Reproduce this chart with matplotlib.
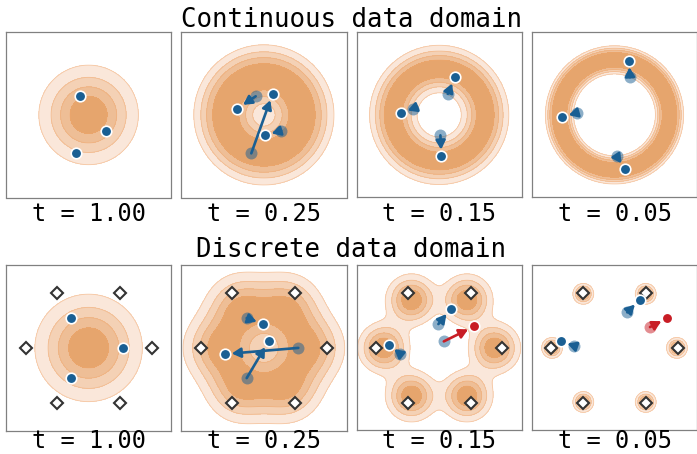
import numpy as np
import matplotlib
matplotlib.use("Agg")
import matplotlib.pyplot as plt

W, H = 697, 454
LIM = 1.31

BLUE = "#1a5f93"
RED = "#c81d25"
BAND_COLORS = ["#fae7da", "#f4d1b5", "#eebe96", "#e6a56d"]
LINE_COLOR = "#f2a66a"
DIAMOND_EDGE = "#333333"
SPINE = "#808080"

row_titles = ["Continuous data domain", "Discrete data domain"]
t_labels = ["t = 1.00", "t = 0.25", "t = 0.15", "t = 0.05"]

# filled bands start at these fractions of the peak density
level_fracs = [0.2, 0.4, 0.6, 0.8]

# continuous density: annulus (radius, half width) blurred by a gaussian
cont_ring_radius = [0.0, 0.645, 0.76, 0.875]
cont_ring_halfwidth = [0.0, 0.295, 0.0, 0.165]
cont_blur = [0.44, 0.20, 0.205, 0.065]

# discrete density: hexagon atoms pulled toward the centre, blurred
hex_angles_deg = [0, 60, 120, 180, 240, 300]
disc_shrink = [0.0, 0.72, 0.88, 0.99]
disc_blur = [0.475, 0.33, 0.23, 0.092]

# continuous trajectories, one row per particle, one column per time step
cont_traj_x = [[-0.130, -0.419, -0.600, -0.829],
               [0.276, 0.019, 0.035, 0.171],
               [-0.200, 0.137, 0.246, 0.230]]
cont_traj_y = [[0.295, 0.100, 0.032, -0.032],
               [-0.249, -0.324, -0.657, -0.857],
               [-0.610, 0.333, 0.597, 0.862]]

# discrete particles: previous (faded) and current positions per panel
disc_prev_x = [[], [-0.273, 0.546, -0.273], [-0.013, -0.616, 0.073], [0.203, -0.643, 0.563]]
disc_prev_y = [[], [0.473, 0.000, -0.479], [0.378, -0.098, 0.103], [0.563, 0.033, 0.330]]
disc_curr_x = [[-0.273, 0.546, -0.273], [-0.013, -0.616, 0.073], [0.183, -0.795, 0.554], [0.398, -0.849, 0.838]]
disc_curr_y = [[0.473, 0.000, -0.479], [0.378, -0.098, 0.103], [0.620, 0.049, 0.341], [0.764, 0.103, 0.473]]
disc_prev_color = [[], ["b", "b", "b"], ["b", "b", "b"], ["b", "b", "r"]]
disc_curr_color = [["b", "b", "b"], ["b", "b", "b"], ["b", "b", "r"], ["b", "b", "r"]]

COLORS = {"b": BLUE, "r": RED}

grid = np.linspace(-1.6, 1.6, 401)
GX, GY = np.meshgrid(grid, grid)
GR = np.hypot(GX, GY)


def i0e(x):
    out = np.empty_like(x)
    small = x < 20
    out[small] = np.i0(x[small]) * np.exp(-x[small])
    xl = x[~small]
    out[~small] = (1 + 1 / (8 * xl) + 9 / (128 * xl ** 2)) / np.sqrt(2 * np.pi * xl)
    return out


def annulus_density(radius, halfwidth, sigma):
    if halfwidth > 0:
        radii = np.linspace(max(radius - halfwidth, 0.0), radius + halfwidth, 61)
    else:
        radii = np.array([radius])
    weights = np.maximum(radii, 1e-6)
    weights = weights / weights.sum()
    z = np.zeros_like(GR)
    for rk, wk in zip(radii, weights):
        z += wk * np.exp(-(GR - rk) ** 2 / (2 * sigma ** 2)) * i0e(GR * rk / sigma ** 2)
    return z


def hexagon_density(shrink, sigma):
    z = np.zeros_like(GR)
    for a in np.deg2rad(hex_angles_deg):
        cx, cy = shrink * np.cos(a), shrink * np.sin(a)
        z += np.exp(-((GX - cx) ** 2 + (GY - cy) ** 2) / (2 * sigma ** 2))
    return z


def draw_density(ax, z):
    zmax = z.max()
    lv = [f * zmax for f in level_fracs] + [zmax * 1.001]
    ax.contourf(GX, GY, z, levels=lv, colors=BAND_COLORS, zorder=1)
    ax.contour(GX, GY, z, levels=lv[:-1], colors=LINE_COLOR,
               linewidths=0.6, alpha=0.5, zorder=1.5)


def draw_moves(ax, px, py, pc, cx, cy, cc):
    for x, y, c in zip(px, py, pc):
        ax.plot(x, y, "o", ms=8.6, color=COLORS[c], alpha=0.5, mew=0, zorder=4)
    for x0, y0, x1, y1, c in zip(px, py, cx, cy, cc):
        ax.annotate("", xy=(x1, y1), xytext=(x0, y0),
                    arrowprops=dict(arrowstyle="-|>,head_length=0.55,head_width=0.3",
                                    color=COLORS[c], lw=1.9, shrinkA=0, shrinkB=4.8,
                                    mutation_scale=9.5),
                    zorder=5)
    for x, y, c in zip(cx, cy, cc):
        ax.plot(x, y, "o", ms=7.6, color=COLORS[c], mec="white", mew=1.2, zorder=6)


fig = plt.figure(figsize=(W / 100, H / 100), dpi=100)
mono = "DejaVu Sans Mono"

lefts = [6.0, 181.3, 356.6, 531.9]
tops = [32.3, 265.3]
size = 165.2
label_baselines = [221.0, 448.0]
title_baselines = [26.7, 257.3]

for row in range(2):
    fig.text(351.5 / W, 1 - title_baselines[row] / H, row_titles[row],
             ha="center", va="baseline", fontsize=18.5, family=mono)
    for col in range(4):
        ax = fig.add_axes([lefts[col] / W, 1 - (tops[row] + size) / H, size / W, size / H])
        ax.set_xlim(-LIM, LIM)
        ax.set_ylim(-LIM, LIM)
        ax.set_aspect("equal")
        ax.set_xticks([])
        ax.set_yticks([])
        for sp in ax.spines.values():
            sp.set_color(SPINE)
            sp.set_linewidth(0.9)

        if row == 0:
            z = annulus_density(cont_ring_radius[col], cont_ring_halfwidth[col], cont_blur[col])
            draw_density(ax, z)
            curr_x = [tr[col] for tr in cont_traj_x]
            curr_y = [tr[col] for tr in cont_traj_y]
            if col > 0:
                prev_x = [tr[col - 1] for tr in cont_traj_x]
                prev_y = [tr[col - 1] for tr in cont_traj_y]
            else:
                prev_x, prev_y = [], []
            draw_moves(ax, prev_x, prev_y, ["b"] * len(prev_x),
                       curr_x, curr_y, ["b"] * len(curr_x))
        else:
            z = hexagon_density(disc_shrink[col], disc_blur[col])
            draw_density(ax, z)
            ang = np.deg2rad(hex_angles_deg)
            ax.plot(np.cos(ang), np.sin(ang), "D", ms=6.6, mfc="white",
                    mec=DIAMOND_EDGE, mew=1.5, ls="none", zorder=3)
            draw_moves(ax, disc_prev_x[col], disc_prev_y[col], disc_prev_color[col],
                       disc_curr_x[col], disc_curr_y[col], disc_curr_color[col])

        fig.text((lefts[col] + size / 2) / W, 1 - label_baselines[row] / H, t_labels[col],
                 ha="center", va="baseline", fontsize=17, family=mono)

fig.savefig("out.png", dpi=100)
